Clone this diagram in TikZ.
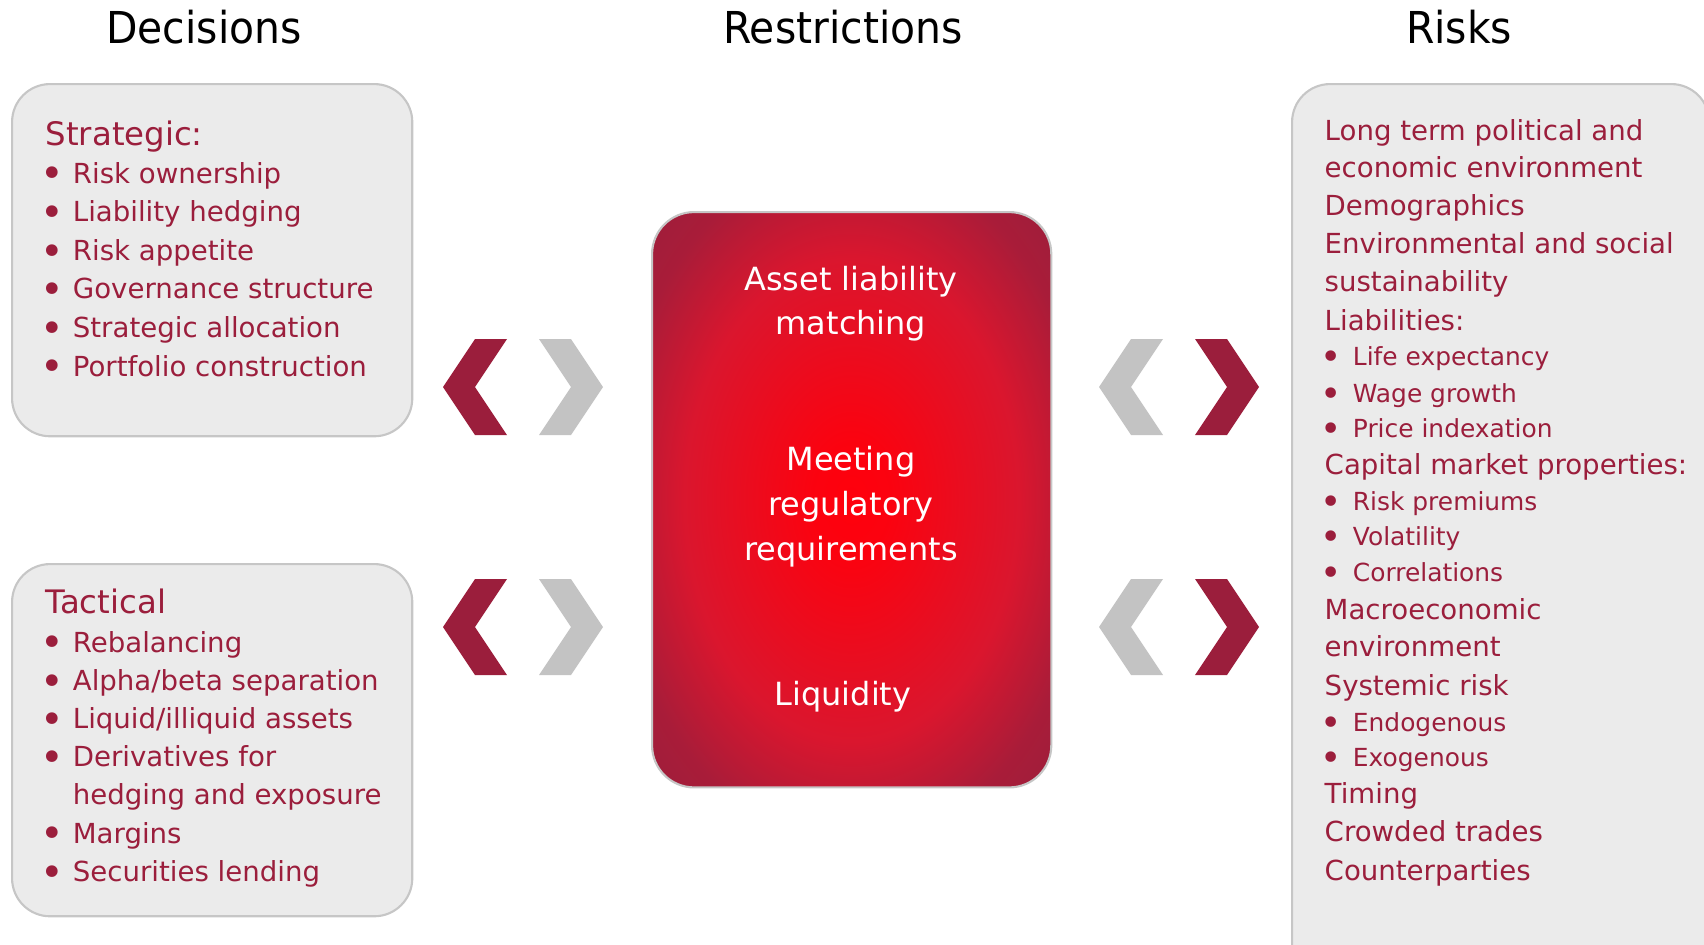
\documentclass[tikz,border=0pt]{standalone}
\usepackage{graphicx}
\usepackage{fontspec}
\setmainfont{DejaVu Sans}
\newfontfamily\headfont{DejaVu Sans}[FakeStretch=0.93]
\usetikzlibrary{positioning}

\definecolor{wine}{RGB}{155,30,60}
\definecolor{chevgrey}{RGB}{195,195,195}
\definecolor{panelfill}{RGB}{235,235,235}
\definecolor{panelline}{RGB}{198,198,198}
\definecolor{hotred}{RGB}{255,0,12}
\definecolor{midred}{RGB}{218,22,46}

% glow for the middle panel
\pgfdeclareradialshading{restrglow}{\pgfpoint{0bp}{0bp}}{%
  color(0bp)=(hotred); color(5bp)=(hotred!90!midred);
  color(21bp)=(midred); color(30bp)=(wine!78!midred);
  color(37bp)=(wine); color(50bp)=(wine)}

\newcommand\bul{\makebox[8.3pt][l]{\hspace*{-0.9pt}\raisebox{-1.4pt}{\scalebox{1.45}{\textbullet}}}}
\newcommand\nobul{\hspace*{8.3pt}}

\tikzset{
	panel/.style={
		rectangle, draw=panelline, line width=0.6pt, fill=panelfill,
		rounded corners=0.38cm, anchor=north west, inner sep=0pt,
	},
	restrbox/.style={
		rectangle, draw=panelline, line width=0.6pt, shading=restrglow,
		rounded corners=0.42cm, anchor=north west, inner sep=0pt,
	},
	head/.style={anchor=base, inner sep=0pt, font=\headfont\fontsize{12.5}{15}\selectfont},
	title/.style={anchor=base west, inner sep=0pt, text=wine, font=\fontsize{9.2}{10}\selectfont},
	item/.style={anchor=base west, inner sep=0pt, text=wine, font=\fontsize{7.85}{9}\selectfont},
	subitem/.style={anchor=base west, inner sep=0pt, text=wine, font=\fontsize{7.08}{8}\selectfont},
	centre/.style={anchor=base, inner sep=0pt, text=white, font=\fontsize{9.08}{11}\selectfont},
}

\begin{document}
\begin{tikzpicture}[x=0.01cm, y=-0.01cm]
	\useasboundingbox (0,0) rectangle (1704,944);
	\clip (0,0) rectangle (1704,944);

	% column titles
	\node [head] (dec) at (204,43) {Decisions};
	\node [head] (res) at (843,43) {Restrictions};
	\node [head] (rsk) at (1459,43) {Risks};

	% panels
	\node [panel, minimum width=4cm, minimum height=3.52cm] (strat) at (11,83) {};
	\node [panel, minimum width=4cm, minimum height=3.52cm] (tact) at (11,563) {};
	\node [restrbox, minimum width=3.99cm, minimum height=5.75cm] (restr) at (651,211) {};
	\node [panel, minimum width=4.17cm, minimum height=9cm] (risk) at (1291,83) {};

	% decisions
	\node [title] (strath) at (45,145) {Strategic:};
	\foreach \t [count=\i] in {\bul Risk ownership, \bul Liability hedging, \bul Risk appetite,
		\bul Governance structure, \bul Strategic allocation, \bul Portfolio construction}
		\node [item] (strat\i) at (43,{183+38.6*(\i-1)}) {\t};

	\node [title] (tacth) at (45,613) {Tactical};
	\foreach \t [count=\i] in {\bul Rebalancing, \bul Alpha/beta separation, \bul Liquid/illiquid assets,
		\bul Derivatives for, \nobul hedging and exposure, \bul Margins, \bul Securities lending}
		\node [item] (tact\i) at (43,{652+38.2*(\i-1)}) {\t};

	% restrictions
	\foreach \y/\t [count=\i] in {290/Asset liability, 334/matching, 470/Meeting,
		515/regulatory, 560/requirements}
		\node [centre] (res\i) at (851,\y) {\t};
	\node [centre] (liq) at (843,705) {Liquidity};

	% risks
	\foreach \y/\t [count=\i] in {140/Long term political and, 177.5/economic environment,
		215/Demographics, 253/Environmental and social, 291/sustainability, 330/Liabilities:,
		474/Capital market properties:, 619/Macroeconomic, 656.7/environment,
		695/Systemic risk, 803/Timing, 841.7/Crowded trades, 880/Counterparties}
		\node [item] (rk\i) at (1324,\y) {\t};
	\foreach \y/\t [count=\i] in {365/Life expectancy, 402/Wage growth, 437/Price indexation,
		510/Risk premiums, 545/Volatility, 581/Correlations, 731/Endogenous, 766/Exogenous}
		\node [subitem] (rs\i) at (1323,\y) {\bul\t};

	% chevrons between the columns
	\foreach \y in {387,627} {
		\fill [wine] (443,\y) -- ++(32,-48) -- ++(32,0) -- ++(-32,48) -- ++(32,48) -- ++(-32,0) -- cycle;
		\fill [chevgrey] (603,\y) -- ++(-32,-48) -- ++(-32,0) -- ++(32,48) -- ++(-32,48) -- ++(32,0) -- cycle;
		\fill [chevgrey] (1099,\y) -- ++(32,-48) -- ++(32,0) -- ++(-32,48) -- ++(32,48) -- ++(-32,0) -- cycle;
		\fill [wine] (1259,\y) -- ++(-32,-48) -- ++(-32,0) -- ++(32,48) -- ++(-32,48) -- ++(32,0) -- cycle;
	}
\end{tikzpicture}
\end{document}
